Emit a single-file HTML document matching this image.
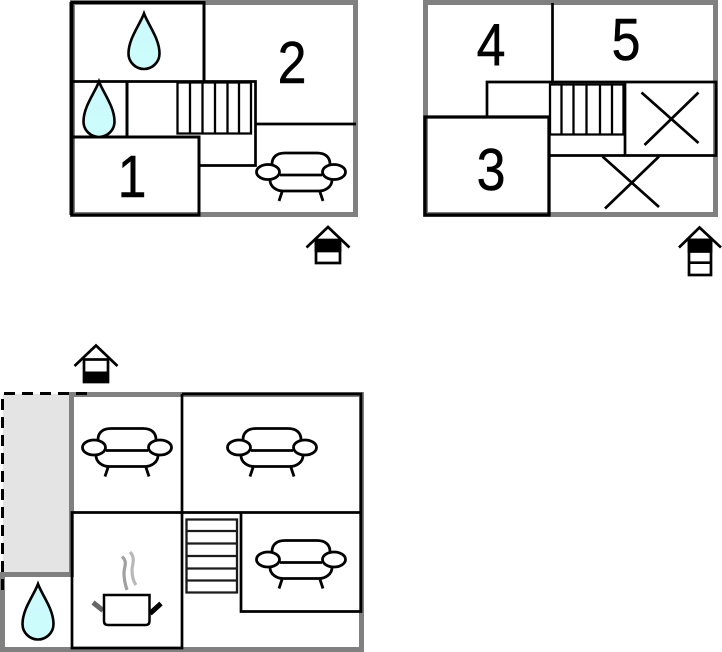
<!DOCTYPE html>
<html>
<head>
<meta charset="utf-8">
<style>
html,body{margin:0;padding:0;background:#fff}
svg{display:block;filter:blur(.35px)}
text{font-family:"Liberation Sans",sans-serif;font-size:59px;fill:#000;text-anchor:middle;stroke:#000;stroke-width:.5px}
</style>
</head>
<body>
<svg width="722" height="652" viewBox="0 0 722 652" xmlns="http://www.w3.org/2000/svg">
<defs>
<linearGradient id="w" x1="0" y1="0" x2="0" y2="1"><stop offset="0" stop-color="#cdf8fb"/><stop offset="1" stop-color="#ccfdfd"/></linearGradient>
<g id="sofa" fill="none" stroke="#000" stroke-width="2.800">
<path d="M-29,-8C-29,-15 -24,-19 -16,-19H16C24,-19 29,-15 29,-8"/>
<path d="M-21,3H21"/>
<path d="M-31,8C-31,15 -24,19 -18,19H18C24,19 31,15 31,8"/>
<path d="M-19,20L-22,29M19,20L22,29"/>
<ellipse cx="-33" cy="0" rx="11.500" ry="7.500" fill="#fff"/>
<ellipse cx="33" cy="0" rx="11.500" ry="7.500" fill="#fff"/>
</g>
<path id="drop" d="M0,0C4,11 15.500,25 15.500,40C15.500,49 8,55.500 0,55.500C-8,55.500 -15.500,49 -15.500,40C-15.500,25 -4,11 0,0Z" fill="url(#w)" stroke="#000" stroke-width="2.600"/>
</defs>

<!-- Plan 1 -->
<rect x="72.500" y="2.500" width="283" height="212" fill="#fff" stroke="#808080" stroke-width="5"/>
<g fill="none" stroke="#000" stroke-width="2.700">
<path d="M72,82V2.500H204V82" stroke-width="3"/>
<path d="M72,81.500H255.500V165.500H199"/>
<path d="M127,81.500V137" stroke-width="3"/>
<path d="M72,137H199V215H72Z" stroke-width="3"/>
<path d="M71.500,2V215" stroke-width="4"/>
<path d="M256,124H356"/>
<path d="M177.500,82.500H251V133.500H177.500ZM190,82.500V133.500M202.500,82.500V133.500M215,82.500V133.500M227.500,82.500V133.500M239,82.500V133.500" stroke-width="2.300"/>
</g>
<use href="#drop" x="144" y="13.500"/>
<use href="#drop" x="99" y="81.500"/>
<use href="#sofa" x="301" y="172"/>
<text transform="translate(292 83) scale(.88 1)">2</text>
<text transform="translate(132 197) scale(.88 1)">1</text>

<!-- Plan 1 marker -->
<g fill="none" stroke="#000" stroke-width="2.700">
<path d="M306.500,247.500L328,227L349.500,247.500"/>
<rect x="316" y="240.500" width="24" height="22.500" fill="#fff"/>
<rect x="316" y="240" width="24" height="11" fill="#000"/>
</g>

<!-- Plan 2 -->
<rect x="425.500" y="2.500" width="290" height="212" fill="#fff" stroke="#808080" stroke-width="5"/>
<g fill="none" stroke="#000" stroke-width="2.700">
<path d="M552.500,3V82"/>
<path d="M487,117V82H716V155.500H550"/>
<path d="M625,82V155.500"/>
<path d="M425,117H549V215H425Z" stroke-width="3.300"/>
<path d="M550,84.500H623.500V134.500H550ZM561.500,84.500V134.500M573.500,84.500V134.500M586.500,84.500V134.500M600,84.500V134.500M612,84.500V134.500" stroke-width="2.300"/>
<path d="M641.500,92.500L698.500,143M698.500,92.500L644.500,145"/>
<path d="M602.500,156.500L659,207M659,156.500L605,208.500"/>
</g>
<text transform="translate(491 65.500) scale(.88 1)">4</text>
<text transform="translate(626 60) scale(.88 1)">5</text>
<text transform="translate(491 190) scale(.88 1)">3</text>

<!-- Plan 2 marker -->
<g fill="none" stroke="#000" stroke-width="2.700">
<path d="M679,247.500L699.500,227.500L721,247.500"/>
<rect x="689" y="240" width="22" height="35" fill="#fff"/>
<rect x="689" y="240" width="22" height="11.500" fill="#000"/>
<path d="M689,262.700H711"/>
</g>

<!-- Plan 3 -->
<rect x="3" y="394" width="67" height="179" fill="#e4e4e4"/>
<g fill="none" stroke="#808080" stroke-width="5">
<path d="M69,394.500H361.500V649.500H2.500V574.500H71.500V392"/>
</g>
<g fill="none" stroke="#000" stroke-width="2.700">
<path d="M2.500,590V393.500H93" stroke-dasharray="11 7" stroke-width="3"/>
<path d="M182,394H361V611.500H241V512.500"/>
<path d="M182,394V648H72V512.500H361"/>
<path d="M186.500,519.500H237V592.500H186.500ZM186.500,531H237M186.500,543.500H237M186.500,556H237M186.500,568.500H237M186.500,580.500H237" stroke="#1a1a1a" stroke-width="2.300"/>
</g>
<use href="#sofa" x="127" y="447.500"/>
<use href="#sofa" x="272" y="447.500"/>
<use href="#sofa" x="301" y="559.500"/>
<use href="#drop" x="38" y="584"/>

<!-- Pot -->
<g fill="none">
<path d="M122,556.500C128,562 124,567 124,573C124,579 125,584 127,590" stroke="#a0a0a0" stroke-width="3.200"/>
<path d="M130,552C135,557 133,563 132,569C132,575 133,581 136,585" stroke="#b8b8b8" stroke-width="3.200"/>
<path d="M93,602.500L103,610.500" stroke="#666" stroke-width="5"/>
<path d="M150,613.500L161,603.500" stroke="#000" stroke-width="5"/>
<path d="M104,595H149.500V621Q149.500,625 145.500,625H108Q104,625 104,621Z" fill="#fff" stroke="#000" stroke-width="2.500"/>
</g>

<!-- Plan 3 marker -->
<g fill="none" stroke="#000" stroke-width="2.700">
<path d="M74.500,366L96,345.500L117.500,366"/>
<rect x="84" y="359.500" width="24" height="22.500" fill="#fff"/>
<rect x="83.500" y="371.500" width="25" height="11" fill="#000" stroke="none"/>
</g>
</svg>
</body>
</html>
